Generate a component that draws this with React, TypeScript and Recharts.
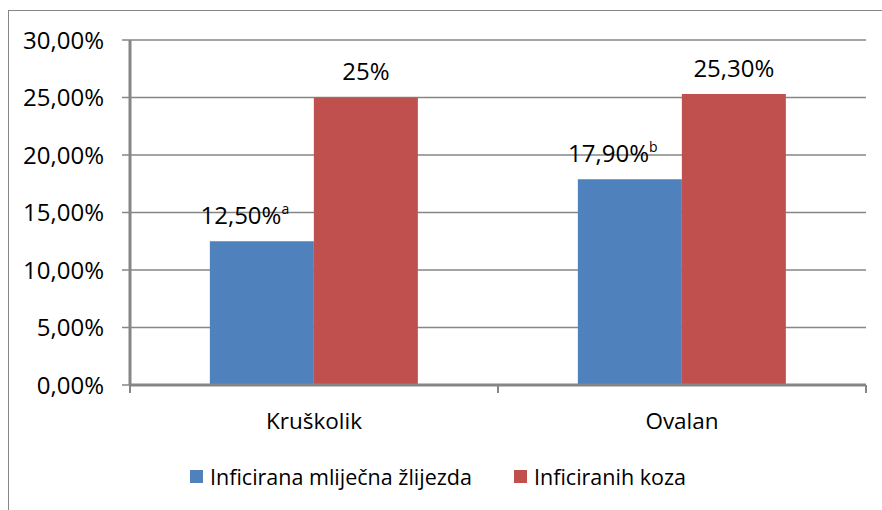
import React from "react";
import { BarChart, Bar, XAxis, YAxis, CartesianGrid, Legend, LabelList } from "recharts";

const categories = ["Kruškolik", "Ovalan"];
const glandValues = [12.5, 17.9];
const goatValues = [25, 25.3];
const glandLabels = ["12,50%", "17,90%"];
const glandSup = ["a", "b"];
const goatLabels = ["25%", "25,30%"];
const yTicks = [0, 5, 10, 15, 20, 25, 30];
const seriesNames = ["Inficirana mliječna žlijezda", "Inficiranih koza"];
const colors = ["#4F81BD", "#C0504D"];

const data = categories.map((c, i) => ({
  name: c,
  gland: glandValues[i],
  goat: goatValues[i],
}));

const FONT = "'Open Sans', sans-serif";
const GRID = "#868686";

const fmtY = (v: number) => v.toFixed(2).replace(".", ",") + "%";

const XTick = (props: any) => {
  const { x, y, payload, index, visibleTicksCount } = props;
  const off = payload && payload.offset ? payload.offset : 0;
  const last = index === visibleTicksCount - 1;
  return (
    <g>
      <line x1={x - off} x2={x - off} y1={y} y2={y + 8} stroke={GRID} strokeWidth={2} />
      {last && <line x1={x + off} x2={x + off} y1={y} y2={y + 8} stroke={GRID} strokeWidth={2} />}
      <text x={x} y={y + 35} textAnchor="middle" dominantBaseline="central" fontFamily={FONT} fontSize={22.5} fill="#000">
        {payload.value}
      </text>
    </g>
  );
};

const GlandLabel = (props: any) => {
  const { x, y, width, index } = props;
  return (
    <text x={x + width / 2 - 17} y={y - 27} textAnchor="middle" dominantBaseline="central" fontFamily={FONT} fontSize={24} fill="#000">
      {glandLabels[index]}
      <tspan fontSize={14} dy={-6}>{glandSup[index]}</tspan>
    </text>
  );
};

const GoatLabel = (props: any) => {
  const { x, y, width, index } = props;
  return (
    <text x={x + width / 2} y={y - 27} textAnchor="middle" dominantBaseline="central" fontFamily={FONT} fontSize={24} fill="#000">
      {goatLabels[index]}
    </text>
  );
};

const LegendContent = () => (
  <div style={{ display: "flex", alignItems: "center", fontFamily: FONT, fontSize: 21.5, color: "#000", whiteSpace: "nowrap" }}>
    {seriesNames.map((n, i) => (
      <div key={n} style={{ display: "flex", alignItems: "center", width: i === 0 ? 324 : "auto" }}>
        <div style={{ width: 13, height: 13, background: colors[i], marginRight: 7 }} />
        <span>{n}</span>
      </div>
    ))}
  </div>
);

export default function App() {
  return (
    <div style={{ position: "fixed", left: 0, top: 0, width: 882, height: 510, overflow: "hidden", background: "#fff" }}>
      <div style={{ position: "absolute", left: 8, top: 10, width: 900, height: 600, border: `1px solid ${GRID}` }} />
      <div style={{ position: "absolute", left: 0, top: 0 }}>
        <BarChart
          width={882}
          height={510}
          data={data}
          margin={{ top: 40, right: 16, left: 0, bottom: 85 }}
          barCategoryGap="21.7%"
          barGap={0}
        >
          <CartesianGrid horizontal={true} vertical={false} stroke={GRID} strokeWidth={1.5} />
          <XAxis
            dataKey="name"
            height={40}
            tickSize={0}
            tickMargin={0}
            tickLine={false}
            axisLine={{ stroke: GRID, strokeWidth: 3 }}
            tick={<XTick />}
            interval={0}
          />
          <YAxis
            width={130}
            domain={[0, 30]}
            ticks={yTicks}
            tickFormatter={fmtY}
            tickSize={8}
            tickMargin={18}
            axisLine={{ stroke: GRID, strokeWidth: 3 }}
            tickLine={{ stroke: GRID, strokeWidth: 1.5 }}
            tick={{ fontFamily: FONT, fontSize: 24, fill: "#000" }}
            interval={0}
          />
          <Legend
            layout="vertical"
            align="center"
            verticalAlign="middle"
            content={<LegendContent />}
            wrapperStyle={{ position: "absolute", left: 190, top: 462, width: "auto" }}
          />
          <Bar dataKey="gland" name={seriesNames[0]} fill={colors[0]} isAnimationActive={false}>
            <LabelList content={<GlandLabel />} />
          </Bar>
          <Bar dataKey="goat" name={seriesNames[1]} fill={colors[1]} isAnimationActive={false}>
            <LabelList content={<GoatLabel />} />
          </Bar>
        </BarChart>
      </div>
    </div>
  );
}
